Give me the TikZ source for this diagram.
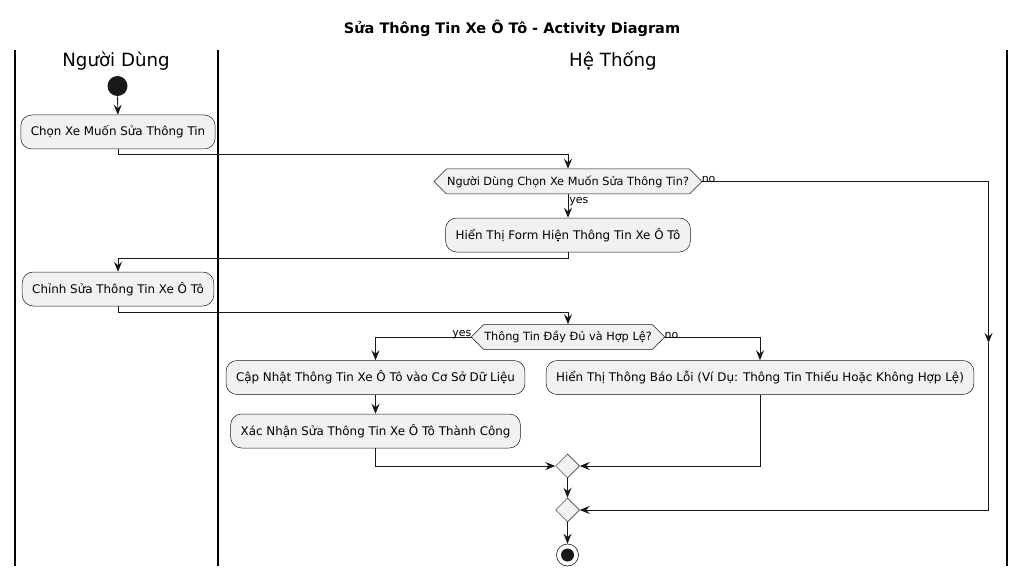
\documentclass[tikz,border=0pt]{standalone}
\usepackage{fontspec}
\setmainfont{DejaVu Sans}
\usepackage{tikz}
\usetikzlibrary{arrows.meta, positioning, calc, shapes.geometric, shapes.symbols}
\definecolor{inkc}{HTML}{181818}
\definecolor{boxc}{HTML}{F1F1F1}
\newcommand{\actbox}[3]{%
  \node[act] (#1) at #2 {#3};
}
\newcommand{\merge}[2]{%
  \node[mergept] (#1) at #2 {};
}

\begin{document}
\begin{tikzpicture}[x=1pt, y=-1pt, >={Stealth[length=10pt,width=8pt,inset=3.5pt]},
          line width=0.9pt, draw=inkc,
          act/.style={rectangle, rounded corners=11pt, draw=inkc, fill=boxc,
            line width=0.5pt, minimum height=34pt, inner xsep=10pt,
            font=\fontsize{11.9}{13}\selectfont},
          cond/.style={signal, signal to=west and east, signal pointer angle=90,
            draw=inkc, fill=boxc, line width=0.5pt, minimum height=25pt,
            inner xsep=0.5pt, inner ysep=0pt, font=\fontsize{11.3}{13}\selectfont},
          mergept/.style={diamond, draw=inkc, fill=boxc, line width=0.5pt,
            minimum width=24pt, minimum height=24pt, inner sep=0pt},
          lbl/.style={font=\fontsize{11}{12}\selectfont, inner sep=1pt},
          lane/.style={black, line width=1.4pt}]
        \useasboundingbox (0,0) rectangle (1026,575);
        \node[font=\fontsize{14.5}{16}\selectfont\bfseries] (title) at (512,28)
          {Sửa Thông Tin Xe Ô Tô - Activity Diagram};
        \foreach \x in {15,218,1007} \draw[lane] (\x,50) -- (\x,566);
        \node[font=\fontsize{18.2}{20}\selectfont] (lane1) at (116,61) {Người Dùng};
        \node[font=\fontsize{18.2}{20}\selectfont] (lane2) at (613,61) {Hệ Thống};
        \node[circle, fill=inkc, minimum size=20pt, inner sep=0pt] (start) at (117.5,86) {};
        \actbox{a1}{(118,132)}{Chọn Xe Muốn Sửa Thông Tin}
        \node[cond] (d1) at (568,181.5) {Người Dùng Chọn Xe Muốn Sửa Thông Tin?};
        \actbox{a2}{(568,235)}{Hiển Thị Form Hiện Thông Tin Xe Ô Tô}
        \actbox{a3}{(118,289)}{Chỉnh Sửa Thông Tin Xe Ô Tô}
        \node[cond] (d2) at (568,337) {Thông Tin Đầy Đủ và Hợp Lệ?};
        \actbox{a4}{(375.5,377.5)}{Cập Nhật Thông Tin Xe Ô Tô vào Cơ Sở Dữ Liệu}
        \actbox{a5}{(375.5,431)}{Xác Nhận Sửa Thông Tin Xe Ô Tô Thành Công}
        \actbox{a6}{(760,377.5)}{Hiển Thị Thông Báo Lỗi (Ví Dụ: Thông Tin Thiếu Hoặc Không Hợp Lệ)}
        \merge{m1}{(567.5,466)}
        \merge{m2}{(567.5,510)}
        \node[circle, draw=inkc, fill=white, line width=0.6pt, minimum size=22pt,
          inner sep=0pt, path picture={\fill[inkc] (path picture bounding box.center)
          circle (6.5pt);}] (stop) at (567.5,555) {};
        \coordinate (nomid) at (988.5,343);
        \draw[->] (start) -- (a1);
        \draw[->] (a1.south) -- ++(0,5) -| (d1.north);
        \draw[->] (d1.south) -- (a2.north)
          node[lbl, pos=0.3, right] {yes};
        \draw[->] (d1.east) node[lbl, above right, xshift=-2pt, yshift=-3pt] {no} -| (nomid);
        \draw[->] (nomid) |- (m2.east);
        \draw[->] (a2.south) -- ++(0,6) -| (a3.north);
        \draw[->] (a3.south) -- ++(0,6) -| (d2.north);
        \draw[->] (d2.west) node[lbl, above left, xshift=2pt, yshift=-3pt] {yes} -| (a4.north);
        \draw[->] (d2.east) node[lbl, above right, xshift=-2pt, yshift=-3pt] {no} -| (a6.north);
        \draw[->] (a4) -- (a5);
        \draw[->] (a5.south) |- (m1.west);
        \draw[->] (a6.south) |- (m1.east);
        \draw[->] (m1) -- (m2);
        \draw[->] (m2) -- (stop);
      \end{tikzpicture}
\end{document}
